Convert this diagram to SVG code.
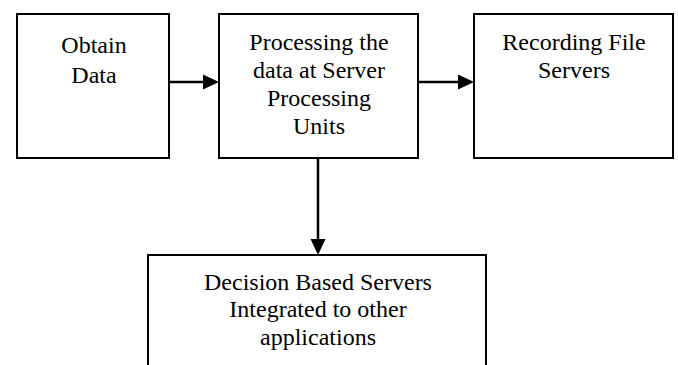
<svg xmlns="http://www.w3.org/2000/svg" width="678" height="365" viewBox="0 0 678 365">
  <style>
    .box { fill: #fff; stroke: #000; stroke-width: 2; }
    .edge { fill: none; stroke: #000; stroke-width: 2.5; }
    .head { fill: #000; stroke: none; }
    text { font-family: 'Liberation Serif', 'Times New Roman', Tinos, 'DejaVu Serif', serif; font-size: 24px; text-anchor: middle; fill: #000; }
  </style>
  <rect width="678" height="365" fill="#fff"/>

  <g id="obtain">
    <rect class="box" x="17" y="14" width="152" height="144"/>
    <text x="94" y="53">Obtain</text>
    <text x="94" y="83">Data</text>
  </g>

  <g id="processing">
    <rect class="box" x="219" y="14" width="199" height="144"/>
    <text x="319" y="50">Processing the</text>
    <text x="319" y="78">data at Server</text>
    <text x="319" y="106">Processing</text>
    <text x="319" y="134">Units</text>
  </g>

  <g id="recording">
    <rect class="box" x="474" y="14" width="199" height="144"/>
    <text x="574" y="50">Recording File</text>
    <text x="574" y="78">Servers</text>
  </g>

  <g id="decision">
    <rect class="box" x="148" y="255" width="338" height="130"/>
    <text x="318" y="290">Decision Based Servers</text>
    <text x="318" y="317">Integrated to other</text>
    <text x="318" y="345">applications</text>
  </g>

  <g id="connectors">
    <line class="edge" x1="169" y1="82" x2="204" y2="82"/>
    <polygon class="head" points="203,74.5 219,82 203,89.5"/>
    <line class="edge" x1="418" y1="82" x2="459" y2="82"/>
    <polygon class="head" points="458,74.5 474,82 458,89.5"/>
    <line class="edge" x1="318" y1="158" x2="318" y2="240"/>
    <polygon class="head" points="310.5,239 318,255 325.5,239"/>
  </g>
</svg>
